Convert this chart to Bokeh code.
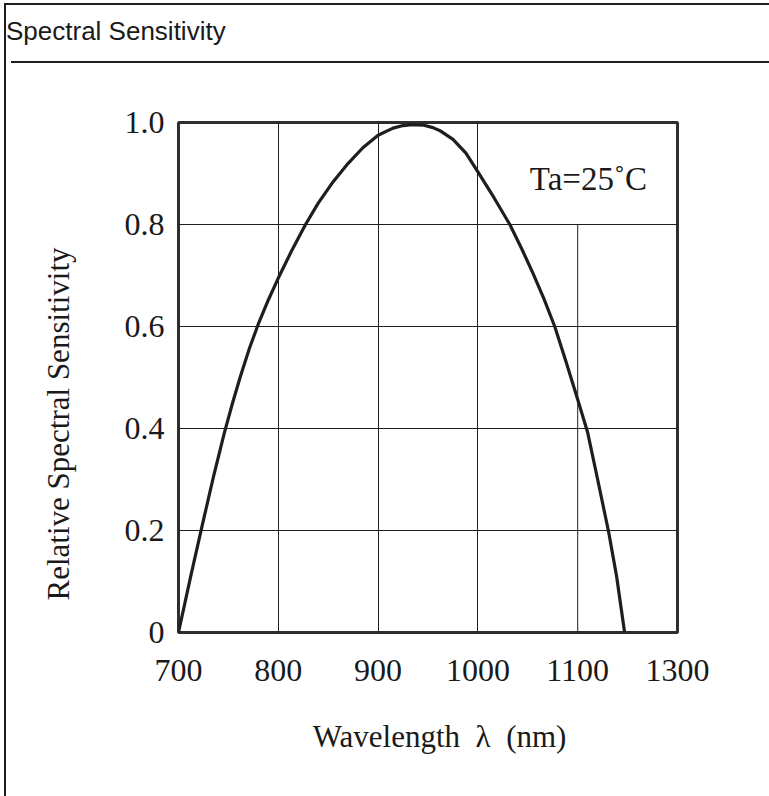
from bokeh.plotting import figure
from bokeh.layouts import column
from bokeh.models import Range1d, FixedTicker, Label, Div
from bokeh.embed import file_html
from bokeh.resources import INLINE

# ---- data ----
wavelength = [700, 712, 724, 735, 746, 754, 762, 771, 780, 790, 800, 813, 827,
              840, 855, 870, 885, 900, 915, 925, 934, 945, 955, 962, 975, 988, 1000, 1016, 1032,
              1044, 1055, 1066, 1077, 1088, 1100, 1110, 1120, 1131, 1139, 1147]
sensitivity = [0.0, 0.108, 0.212, 0.305, 0.392, 0.449, 0.502, 0.557, 0.605, 0.652, 0.695, 0.747, 0.799,
               0.842, 0.884, 0.920, 0.951, 0.975, 0.989, 0.994, 0.996, 0.995, 0.990, 0.984, 0.967,
               0.94, 0.903, 0.853, 0.80, 0.752, 0.705, 0.655, 0.60, 0.533, 0.457, 0.392, 0.30,
               0.197, 0.11, 0.0]
x_ticks = [700, 800, 900, 1000, 1100, 1200]
x_tick_labels = ["700", "800", "900", "1000", "1100", "1300"]
y_ticks = [0.0, 0.2, 0.4, 0.6, 0.8, 1.0]
y_tick_labels = ["0", "0.2", "0.4", "0.6", "0.8", "1.0"]
x_grid = [800, 900, 1000]
y_grid = [0.2, 0.4, 0.6, 0.8]
partial_grid_x = [1100]
partial_grid_top = [0.8]

title_text = "Spectral Sensitivity"
x_label = "\u00a0" * 3 + "Wavelength\u00a0\u00a0λ\u00a0\u00a0(nm)"
y_label = "Relative Spectral Sensitivity" + "\u00a0" * 12
note_text = "Ta=25˚C"

SERIF = "Liberation Serif"
DARK = "#1e1e1e"
W = 758

# ---- header ----
head = Div(
    text=('<div style="font-family:\'Liberation Sans\',Arial,sans-serif;font-size:26px;'
          'color:#1a1a1a;padding:7px 0 0 0;margin-left:-5px;line-height:1.15;white-space:nowrap;">'
          + title_text + '</div>'),
    width=W, height=53,
    styles={"border-bottom": "2px solid #1e1e1e", "box-sizing": "border-box"})

# ---- main plot ----
p = figure(width=W, height=730, x_range=Range1d(700, 1200), y_range=Range1d(0, 1.0),
           output_backend="svg", toolbar_location=None,
           min_border_left=172, min_border_right=87, min_border_top=54, min_border_bottom=166)

p.outline_line_color = "#2e2e2e"
p.outline_line_width = 3

p.xaxis.ticker = FixedTicker(ticks=x_ticks)
p.xaxis.major_label_overrides = {t: l for t, l in zip(x_ticks, x_tick_labels)}
p.yaxis.ticker = FixedTicker(ticks=y_ticks)
p.yaxis.major_label_overrides = {t: l for t, l in zip(y_ticks, y_tick_labels)}

for ax in (p.xaxis, p.yaxis):
    ax.axis_line_color = None
    ax.major_tick_line_color = None
    ax.minor_tick_line_color = None
    ax.major_label_text_font = SERIF
    ax.major_label_text_font_size = "32px"
    ax.major_label_text_color = "#1a1a1a"
    ax.axis_label_text_font = SERIF
    ax.axis_label_text_font_size = "31px"
    ax.axis_label_text_font_style = "normal"
    ax.axis_label_text_color = "#1a1a1a"

p.xaxis.axis_label = x_label
p.yaxis.axis_label = y_label
p.xaxis.major_label_standoff = 21
p.xaxis.axis_label_standoff = 35
p.yaxis.major_label_standoff = 8
p.yaxis.axis_label_standoff = 46

p.xgrid.ticker = FixedTicker(ticks=x_grid)
p.ygrid.ticker = FixedTicker(ticks=y_grid)
for g in (p.xgrid, p.ygrid):
    g.grid_line_color = DARK
    g.grid_line_width = 1
    g.grid_line_alpha = 1.0

p.segment(x0=partial_grid_x, y0=[0] * len(partial_grid_x), x1=partial_grid_x, y1=partial_grid_top,
          line_color=DARK, line_width=1)

p.line(wavelength, sensitivity, line_color=DARK, line_width=3.2, line_join="round")

p.add_layout(Label(x=1052, y=0.889, text=note_text, text_font=SERIF,
                   text_font_size="33px", text_color="#1a1a1a", text_baseline="alphabetic"))

layout = column(head, p, styles={"margin-left": "4px", "margin-top": "3px",
                                 "border-left": "2px solid #1e1e1e",
                                 "border-top": "2px solid #1e1e1e"})

open("out.html", "w").write(file_html(layout, INLINE))
